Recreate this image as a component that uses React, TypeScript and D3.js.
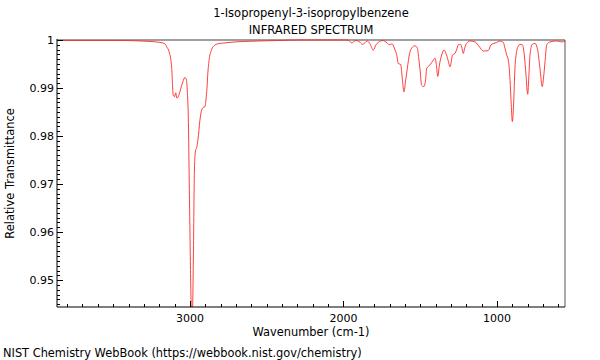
import * as d3 from "d3";

const wavenumbers = [
  3867, 3717, 3587, 3456, 3326, 3261, 3196, 3163, 3150, 3135, 3119, 3109, 3100, 3093, 3085, 3072,
  3059, 3046, 3033, 3023, 3016, 3011, 3003, 2990, 2984, 2977, 2971, 2963, 2957, 2948, 2935, 2924,
  2912, 2902, 2896, 2889, 2883, 2873, 2860, 2844, 2818, 2772, 2707, 2642, 2544, 2414, 2283, 2088,
  1971, 1947, 1919, 1899, 1875, 1845, 1827, 1806, 1788, 1773, 1741, 1717, 1702, 1684, 1664, 1653,
  1643, 1627, 1616, 1606, 1596, 1584, 1570, 1556, 1534, 1519, 1510, 1502, 1491, 1476, 1465, 1458,
  1437, 1415, 1404, 1394, 1386, 1375, 1360, 1345, 1332, 1319, 1306, 1289, 1274, 1264, 1252, 1237,
  1228, 1220, 1209, 1198, 1176, 1143, 1115, 1089, 1057, 1039, 1020, 1002, 980, 959, 948, 937,
  926, 915, 907, 900, 892, 883, 872, 860, 850, 835, 822, 811, 800, 792, 785, 770,
  753, 735, 720, 705, 697, 687, 676, 655, 611, 579, 557
];
const transmittance = [
  0.9999, 0.9999, 0.9999, 0.9999, 0.9998, 0.9997, 0.9995, 0.9992, 0.9985, 0.9975, 0.9942, 0.9885, 0.9882, 0.989, 0.9879, 0.9885,
  0.99, 0.9913, 0.9922, 0.9917, 0.9885, 0.9844, 0.9667, 0.9438, 0.9433, 0.9563, 0.9729, 0.9771, 0.9775, 0.9792, 0.9833, 0.9854,
  0.986, 0.9861, 0.9875, 0.99, 0.9933, 0.9963, 0.9979, 0.9988, 0.9992, 0.9994, 0.9996, 0.9997, 0.9998, 0.9999, 1.0, 1.0,
  1.0, 0.9994, 0.9999, 0.9997, 0.9991, 0.9998, 0.9992, 0.9979, 0.999, 0.9995, 0.9999, 0.9994, 0.999, 0.9992, 0.9979, 0.9969,
  0.9951, 0.9949, 0.9917, 0.9892, 0.9913, 0.9941, 0.9971, 0.9983, 0.9988, 0.9983, 0.9963, 0.9941, 0.9906, 0.9903, 0.9917, 0.9941,
  0.9948, 0.9958, 0.9962, 0.9946, 0.9924, 0.9948, 0.9969, 0.9979, 0.9972, 0.9958, 0.9944, 0.9969, 0.9972, 0.9979, 0.999, 0.9991,
  0.9983, 0.9972, 0.9985, 0.9993, 0.9998, 0.9996, 0.9986, 0.9977, 0.9978, 0.999, 0.9993, 0.9995, 0.9998, 0.9995, 0.9983, 0.9969,
  0.9958, 0.9917, 0.9865, 0.983, 0.9865, 0.9941, 0.9976, 0.9988, 0.9991, 0.999, 0.9969, 0.9927, 0.9887, 0.9927, 0.9969, 0.9991,
  0.9993, 0.9979, 0.9941, 0.9903, 0.9921, 0.9955, 0.999, 0.9996, 0.9998, 0.9996, 0.9998
];

const xMajorTicks = [3000, 2000, 1000];
const yMajorTicks = [1, 0.99, 0.98, 0.97, 0.96, 0.95];
const yTickLabels = ["1", "0.99", "0.98", "0.97", "0.96", "0.95"];

const titleLines = ["1-Isopropenyl-3-isopropylbenzene", "INFRARED SPECTRUM"];
const xTitle = "Wavenumber (cm-1)";
const yTitle = "Relative Transmittance";
const footer = "NIST Chemistry WebBook (https://webbook.nist.gov/chemistry)";

const width = 600;
const height = 360;
const left = 57;
const right = 565;
const top = 40;
const bottom = 307;
const font = "DejaVu Sans, sans-serif";

export default function App() {
  const x = d3.scaleLinear().domain([3866, 557]).range([left, right]);
  const y = d3.scaleLinear().domain([0.9444, 1]).range([bottom, top]);

  const points = wavenumbers.map((w, i) => [w, transmittance[i]] as [number, number]);
  const line = d3
    .line<[number, number]>()
    .x((d) => x(d[0]))
    .y((d) => y(d[1]))
    .curve(d3.curveMonotoneX);

  const xMinor = d3.range(600, 3900, 100).filter((v) => v <= 3866 && v >= 557 && v % 1000 !== 0);
  const yMinor = d3.range(945, 1001, 1).map((v) => v / 1000).filter((v) => Math.round(v * 1000) % 10 !== 0);

  const cx = (left + right) / 2;

  return (
    <svg
      width={width}
      height={height}
      style={{ position: "absolute", left: 0, top: 0, background: "#fff" }}
      fontFamily={font}
    >
      <defs>
        <clipPath id="plot-clip">
          <rect x={left} y={top - 2} width={right - left} height={bottom - top + 2} />
        </clipPath>
      </defs>

      {titleLines.map((t, i) => (
        <text key={t} x={cx} y={17 + i * 17} textAnchor="middle" fontSize={11.5} fill="#000">
          {t}
        </text>
      ))}

      {/* frame */}
      <line x1={left} x2={right} y1={top} y2={top} stroke="#a0a0a0" strokeWidth={2} />
      <line x1={right} x2={right} y1={top} y2={bottom} stroke="#555" strokeWidth={1} />

      <path d={line(points) ?? undefined} fill="none" stroke="#ff2828" strokeWidth={0.9} clipPath="url(#plot-clip)" />

      <line x1={left} x2={left} y1={top - 1} y2={bottom} stroke="#000" strokeWidth={1} />
      <line x1={left} x2={right} y1={bottom} y2={bottom} stroke="#000" strokeWidth={1} />

      {/* y ticks */}
      {yMinor.map((v) => (
        <line key={`ym${v}`} x1={left} x2={left + 3} y1={Math.round(y(v)) + 0.5} y2={Math.round(y(v)) + 0.5} stroke="#000" />
      ))}
      {yMajorTicks.map((v, i) => (
        <g key={`y${v}`}>
          <line x1={left} x2={left + 6} y1={Math.round(y(v)) + 0.5} y2={Math.round(y(v)) + 0.5} stroke="#000" />
          <text x={left - 3} y={y(v)} dy="0.35em" textAnchor="end" fontSize={11} fill="#000">
            {yTickLabels[i]}
          </text>
        </g>
      ))}

      {/* x ticks */}
      {xMinor.map((v) => (
        <line key={`xm${v}`} x1={Math.round(x(v)) + 0.5} x2={Math.round(x(v)) + 0.5} y1={bottom} y2={bottom - 3} stroke="#000" />
      ))}
      {xMajorTicks.map((v) => (
        <g key={`x${v}`}>
          <line x1={Math.round(x(v)) + 0.5} x2={Math.round(x(v)) + 0.5} y1={bottom} y2={bottom - 6} stroke="#000" />
          <text x={x(v)} y={322} textAnchor="middle" fontSize={11} fill="#000">
            {v}
          </text>
        </g>
      ))}

      <text x={cx} y={336} textAnchor="middle" fontSize={11.4} fill="#000">
        {xTitle}
      </text>
      <text transform={`translate(14, ${(top + bottom) / 2}) rotate(-90)`} textAnchor="middle" fontSize={11.4} fill="#000">
        {yTitle}
      </text>
      <text x={3} y={357} fontSize={11.4} fill="#000">
        {footer}
      </text>
    </svg>
  );
}
